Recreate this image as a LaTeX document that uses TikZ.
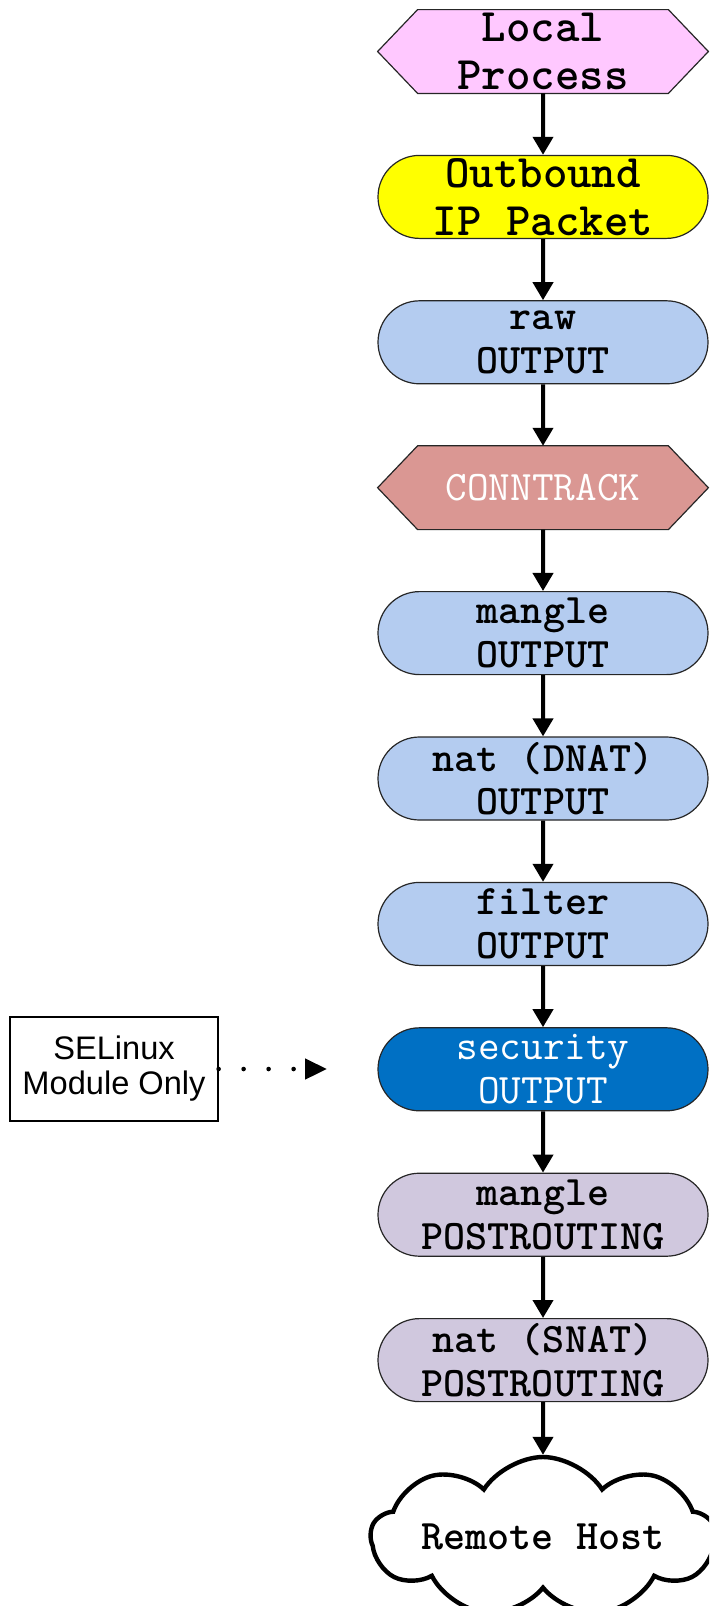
\documentclass[tikz,border=0pt]{standalone}
\usepackage{fontspec}
\usetikzlibrary{shapes.misc,shapes.symbols,arrows.meta,backgrounds,calc}
\newfontfamily\labelsans{Liberation Sans}

\definecolor{procpink}{HTML}{FFC8FF}
\definecolor{pktyellow}{HTML}{FFFF00}
\definecolor{chainblue}{HTML}{B4CCF0}
\definecolor{ctrose}{HTML}{DA9793}
\definecolor{secblue}{HTML}{0070C4}
\definecolor{postlav}{HTML}{D0C8DE}

\tikzset{
  chainbox/.style={rounded rectangle, draw=black!85, line width=0.6pt,
    minimum width=165pt, minimum height=41.5pt, inner sep=0pt, align=center,
    font=\fontsize{21}{21.8}\selectfont\ttfamily\bfseries},
  bigtext/.style={font=\fontsize{23.3}{24}\selectfont\ttfamily\bfseries},
  lighttext/.style={text=white, font=\fontsize{21}{21.8}\selectfont\ttfamily},
  hexbox/.style={rectangle, minimum width=165pt, minimum height=41.5pt,
    inner sep=0pt, align=center},
  hexline/.style={draw=black!85, line width=0.6pt},
  flow/.style={line width=2pt, -{Triangle[length=9pt,width=10pt]}},
  dotflow/.style={line width=2.3pt, line cap=round, dash pattern=on 0pt off 12.5pt,
    -{Triangle[length=11pt,width=10pt]}},
  notebox/.style={draw=black, line width=0.6pt, minimum width=104pt,
    minimum height=52pt, inner sep=0pt, align=center,
    font=\labelsans\fontsize{16.3}{17.5}\selectfont},
}

\begin{document}
\begin{tikzpicture}[x=0.5pt,y=-0.5pt]
  \useasboundingbox (0,0) rectangle (709,1606);
  \clip (0,0) rectangle (709,1606);

  % hexagonal endpoints of the chain
  \node[hexbox, bigtext] (lp) at (543,51.5) {Local\\Process};
  \node[hexbox, lighttext] (ct) at (543,487.7) {CONNTRACK};
  \begin{scope}[on background layer]
    \foreach \n/\c in {lp/procpink, ct/ctrose}{
      \draw[hexline, fill=\c] (\n.west) -- ([xshift=20pt]\n.north west)
        -- ([xshift=-20pt]\n.north east) -- (\n.east)
        -- ([xshift=-20pt]\n.south east) -- ([xshift=20pt]\n.south west) -- cycle;
    }
  \end{scope}

  % packet and table/chain boxes
  \node[chainbox, fill=pktyellow, bigtext] (ob) at (543,196.9) {Outbound\\IP Packet};
  \node[chainbox, fill=chainblue] (raw) at (543,342.3) {raw\\OUTPUT};
  \node[chainbox, fill=chainblue] (mo) at (543,633.1) {mangle\\OUTPUT};
  \node[chainbox, fill=chainblue] (no) at (543,778.5) {nat (DNAT)\\OUTPUT};
  \node[chainbox, fill=chainblue] (fo) at (543,923.9) {filter\\OUTPUT};
  \node[chainbox, fill=secblue, lighttext] (so) at (543,1069.3) {security\\OUTPUT};
  \node[chainbox, fill=postlav] (mp) at (543,1214.7) {mangle\\POSTROUTING};
  \node[chainbox, fill=postlav] (np) at (543,1360.1) {nat (SNAT)\\POSTROUTING};

  % destination
  \node[cloud, draw=black, line width=2.2pt, fill=white, cloud puffs=9,
        cloud puff arc=115, cloud ignores aspect, minimum width=172pt,
        minimum height=80pt, inner sep=0pt,
        font=\fontsize{21}{21.8}\selectfont\ttfamily\bfseries] (rh) at (543,1537) {Remote Host};

  % flow
  \draw[flow] (lp) -- (ob);
  \draw[flow] (ob) -- (raw);
  \draw[flow] (raw) -- (ct);
  \draw[flow] (ct) -- (mo);
  \draw[flow] (mo) -- (no);
  \draw[flow] (no) -- (fo);
  \draw[flow] (fo) -- (so);
  \draw[flow] (so) -- (mp);
  \draw[flow] (mp) -- (np);
  \draw[flow] (np) -- (rh);

  % SELinux note
  \node[notebox] (se) at (114,1069) {SELinux\\Module Only};
  \coordinate (setip) at (327,1069);
  \draw[dotflow] (se.east) -- (setip);
\end{tikzpicture}
\end{document}
